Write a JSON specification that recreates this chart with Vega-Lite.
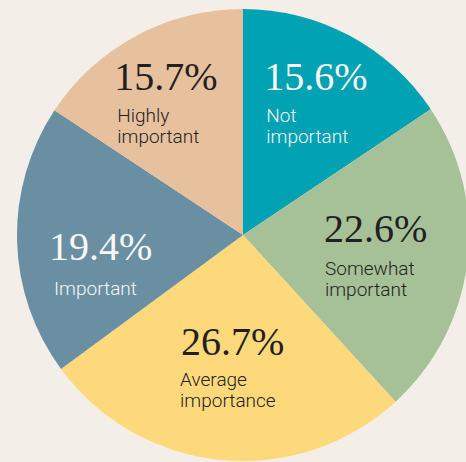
{
  "$schema": "https://vega.github.io/schema/vega-lite/v6.json",
  "width": 446,
  "height": 452,
  "autosize": {"type": "none"},
  "padding": {"left": 20, "top": 9, "right": 0, "bottom": 1},
  "background": "#F3EFE8",
  "config": {"view": {"stroke": null}},
  "data": {
    "values": [
      {"category": "Not important", "order": 1, "value": 15.6, "pct": "15.6%", "label": "Not\nimportant"},
      {"category": "Somewhat important", "order": 2, "value": 22.6, "pct": "22.6%", "label": "Somewhat\nimportant"},
      {"category": "Average importance", "order": 3, "value": 26.7, "pct": "26.7%", "label": "Average\nimportance"},
      {"category": "Important", "order": 4, "value": 19.4, "pct": "19.4%", "label": "Important"},
      {"category": "Highly important", "order": 5, "value": 15.7, "pct": "15.7%", "label": "Highly\nimportant"}
    ]
  },
  "encoding": {
    "theta": {"field": "value", "type": "quantitative", "stack": true},
    "order": {"field": "order", "type": "quantitative"}
  },
  "layer": [
    {
      "mark": {"type": "arc", "radius": 226},
      "encoding": {
        "color": {
          "field": "category", "type": "nominal", "legend": null,
          "scale": {
            "domain": ["Not important", "Somewhat important", "Average importance", "Important", "Highly important"],
            "range": ["#00A2B3", "#A6C197", "#FED97B", "#6A8FA3", "#E7C09D"]
          }
        }
      }
    },
    {
      "mark": {"type": "text", "radius": 143, "align": "left", "baseline": "alphabetic", "dx": -46, "dy": -19, "font": "Liberation Serif", "fontSize": 40, "color": "#F7F7F5"},
      "encoding": {"text": {"condition": {"test": "datum.category === 'Not important'", "field": "pct"}, "value": ""}}
    },
    {
      "mark": {"type": "text", "radius": 143, "align": "left", "baseline": "alphabetic", "dx": -44, "dy": 13, "lineBreak": "\n", "lineHeight": 21, "font": "Roboto", "fontSize": 19, "fontWeight": 300, "color": "#F7F7F5"},
      "encoding": {"text": {"condition": {"test": "datum.category === 'Not important'", "field": "label"}, "value": ""}}
    },
    {
      "mark": {"type": "text", "radius": 143, "align": "left", "baseline": "alphabetic", "dx": -61, "dy": -10, "font": "Liberation Serif", "fontSize": 40, "color": "#231F20"},
      "encoding": {"text": {"condition": {"test": "datum.category === 'Somewhat important'", "field": "pct"}, "value": ""}}
    },
    {
      "mark": {"type": "text", "radius": 143, "align": "left", "baseline": "alphabetic", "dx": -60, "dy": 23, "lineBreak": "\n", "lineHeight": 21, "font": "Roboto", "fontSize": 19, "fontWeight": 300, "color": "#231F20"},
      "encoding": {"text": {"condition": {"test": "datum.category === 'Somewhat important'", "field": "label"}, "value": ""}}
    },
    {
      "mark": {"type": "text", "radius": 143, "align": "left", "baseline": "alphabetic", "dx": -48, "dy": -22, "font": "Liberation Serif", "fontSize": 40, "color": "#231F20"},
      "encoding": {"text": {"condition": {"test": "datum.category === 'Average importance'", "field": "pct"}, "value": ""}}
    },
    {
      "mark": {"type": "text", "radius": 143, "align": "left", "baseline": "alphabetic", "dx": -49, "dy": 9, "lineBreak": "\n", "lineHeight": 21, "font": "Roboto", "fontSize": 19, "fontWeight": 300, "color": "#231F20"},
      "encoding": {"text": {"condition": {"test": "datum.category === 'Average importance'", "field": "label"}, "value": ""}}
    },
    {
      "mark": {"type": "text", "radius": 143, "align": "left", "baseline": "alphabetic", "dx": -51, "dy": 21, "font": "Liberation Serif", "fontSize": 40, "color": "#F7F7F5"},
      "encoding": {"text": {"condition": {"test": "datum.category === 'Important'", "field": "pct"}, "value": ""}}
    },
    {
      "mark": {"type": "text", "radius": 143, "align": "left", "baseline": "alphabetic", "dx": -46, "dy": 56, "font": "Roboto", "fontSize": 19, "fontWeight": 300, "color": "#F7F7F5"},
      "encoding": {"text": {"condition": {"test": "datum.category === 'Important'", "field": "label"}, "value": ""}}
    },
    {
      "mark": {"type": "text", "radius": 143, "align": "left", "baseline": "alphabetic", "dx": -61, "dy": -19, "font": "Liberation Serif", "fontSize": 40, "color": "#231F20"},
      "encoding": {"text": {"condition": {"test": "datum.category === 'Highly important'", "field": "pct"}, "value": ""}}
    },
    {
      "mark": {"type": "text", "radius": 143, "align": "left", "baseline": "alphabetic", "dx": -58, "dy": 13, "lineBreak": "\n", "lineHeight": 21, "font": "Roboto", "fontSize": 19, "fontWeight": 300, "color": "#231F20"},
      "encoding": {"text": {"condition": {"test": "datum.category === 'Highly important'", "field": "label"}, "value": ""}}
    }
  ]
}
